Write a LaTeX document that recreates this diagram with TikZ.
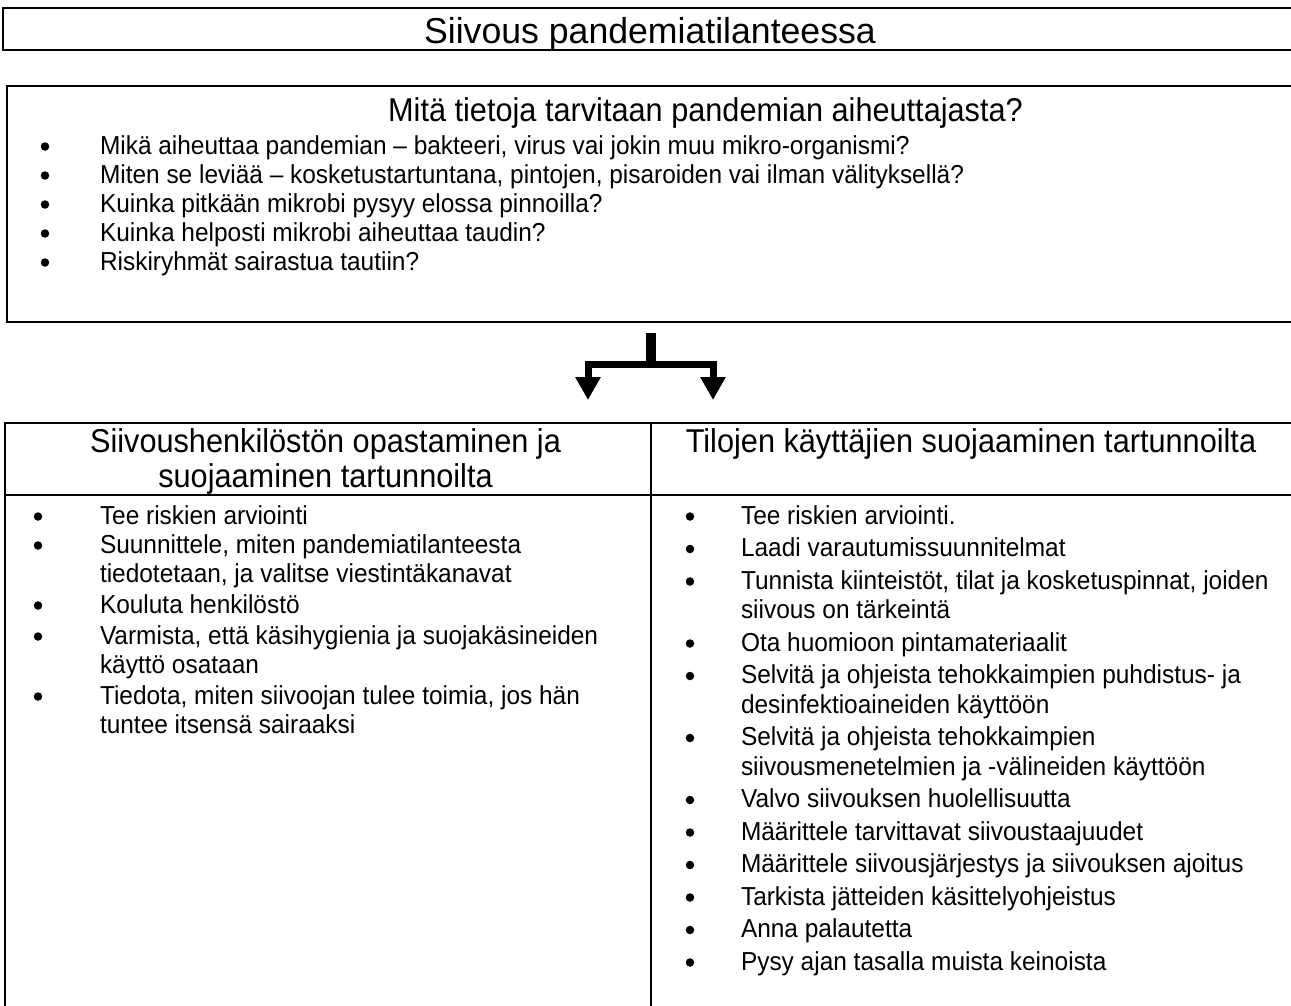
\documentclass[tikz,border=0pt]{standalone}
\usepackage{fontspec}
\setmainfont{Liberation Sans}[FakeStretch=0.94]
\newfontfamily\headfont{Liberation Sans}[FakeStretch=0.93]
\newfontfamily\titlefont{Liberation Sans}[FakeStretch=0.99]
\usetikzlibrary{arrows.meta}
\newcommand\tline[4]{\node[txt,anchor=base west] (#1) at (#2,#3) {#4};}
\newcommand\bul[3]{\node[dot] (#1) at (#2,#3-7.5) {};}
\begin{document}
\begin{tikzpicture}[x=1pt,y=-1pt,
  txt/.style={inner sep=0pt,outer sep=0pt,font=\fontsize{26}{30}\selectfont},
  dot/.style={circle,fill=black,inner sep=0pt,minimum size=8.5pt},
  head/.style={inner sep=0pt,outer sep=0pt,font=\headfont\fontsize{33}{37}\selectfont,anchor=base},
  border/.style={line width=2.4pt},
  fork/.style={line width=7pt,line join=miter,
     {Triangle[width=24pt,length=23pt]}-{Triangle[width=24pt,length=23pt]}}]
\useasboundingbox (0,0) rectangle (1291,1005);
\fill[white] (0,0) rectangle (1291,1005);
\clip (0,0) rectangle (1291,1005);
% title box
\draw[border] (3,8) rectangle (1310,50);
\node[head,font=\titlefont\fontsize{36}{40}\selectfont] (title) at (650,43) {Siivous pandemiatilanteessa};
% info box
\draw[border] (7,86) rectangle (1310,322);
\node[head] (infohead) at (705.5,121) {Mitä tietoja tarvitaan pandemian aiheuttajasta?};
\bul{ib1}{45}{154}\tline{it1}{100}{154}{Mikä aiheuttaa pandemian – bakteeri, virus vai jokin muu mikro-organismi?}
\bul{ib2}{45}{183}\tline{it2}{100}{183}{Miten se leviää – kosketustartuntana, pintojen, pisaroiden vai ilman välityksellä?}
\bul{ib3}{45}{212}\tline{it3}{100}{212}{Kuinka pitkään mikrobi pysyy elossa pinnoilla?}
\bul{ib4}{45}{241}\tline{it4}{100}{241}{Kuinka helposti mikrobi aiheuttaa taudin?}
\bul{ib5}{45}{270}\tline{it5}{100}{270}{Riskiryhmät sairastua tautiin?}
% fork arrow
\coordinate (stemtop) at (651,333);
\coordinate (split) at (651,364);
\coordinate (lcorner) at (588,364);
\coordinate (rcorner) at (713,364);
\coordinate (ltip) at (588,400);
\coordinate (rtip) at (713,400);
\draw[line width=10pt] (stemtop) -- (split);
\draw[fork] (ltip) -- (lcorner) -- (rcorner) -- (rtip);
% table
\draw[border] (5,423) rectangle (1310,1020);
\draw[border] (5,495) -- (1310,495);
\draw[border] (651,423) -- (651,1020);
\node[head] (lh1) at (325.5,452) {Siivoushenkilöstön opastaminen ja};
\node[head] (lh2) at (325.5,487) {suojaaminen tartunnoilta};
\node[head] (rh) at (971,452) {Tilojen käyttäjien suojaaminen tartunnoilta};
% left column
\bul{lb1}{38}{524}\tline{l1}{100}{524}{Tee riskien arviointi}
\bul{lb2}{38}{553}\tline{l2}{100}{553}{Suunnittele, miten pandemiatilanteesta}
\tline{l2b}{100}{582}{tiedotetaan, ja valitse viestintäkanavat}
\bul{lb3}{38}{613}\tline{l3}{100}{613}{Kouluta henkilöstö}
\bul{lb4}{38}{644}\tline{l4}{100}{644}{Varmista, että käsihygienia ja suojakäsineiden}
\tline{l4b}{100}{673}{käyttö osataan}
\bul{lb5}{38}{704}\tline{l5}{100}{704}{Tiedota, miten siivoojan tulee toimia, jos hän}
\tline{l5b}{100}{733}{tuntee itsensä sairaaksi}
% right column
\bul{rb1}{690}{524}\tline{r1}{741}{524}{Tee riskien arviointi.}
\bul{rb2}{690}{556.5}\tline{r2}{741}{556.5}{Laadi varautumissuunnitelmat}
\bul{rb3}{690}{589}\tline{r3}{741}{589}{Tunnista kiinteistöt, tilat ja kosketuspinnat, joiden}
\tline{r3b}{741}{618.5}{siivous on tärkeintä}
\bul{rb4}{690}{651}\tline{r4}{741}{651}{Ota huomioon pintamateriaalit}
\bul{rb5}{690}{683.5}\tline{r5}{741}{683.5}{Selvitä ja ohjeista tehokkaimpien puhdistus- ja}
\tline{r5b}{741}{713}{desinfektioaineiden käyttöön}
\bul{rb6}{690}{745.5}\tline{r6}{741}{745.5}{Selvitä ja ohjeista tehokkaimpien}
\tline{r6b}{741}{775}{siivousmenetelmien ja -välineiden käyttöön}
\bul{rb7}{690}{807.5}\tline{r7}{741}{807.5}{Valvo siivouksen huolellisuutta}
\bul{rb8}{690}{840}\tline{r8}{741}{840}{Määrittele tarvittavat siivoustaajuudet}
\bul{rb9}{690}{872.5}\tline{r9}{741}{872.5}{Määrittele siivousjärjestys ja siivouksen ajoitus}
\bul{rb10}{690}{905}\tline{r10}{741}{905}{Tarkista jätteiden käsittelyohjeistus}
\bul{rb11}{690}{937.5}\tline{r11}{741}{937.5}{Anna palautetta}
\bul{rb12}{690}{970}\tline{r12}{741}{970}{Pysy ajan tasalla muista keinoista}
\end{tikzpicture}
\end{document}
